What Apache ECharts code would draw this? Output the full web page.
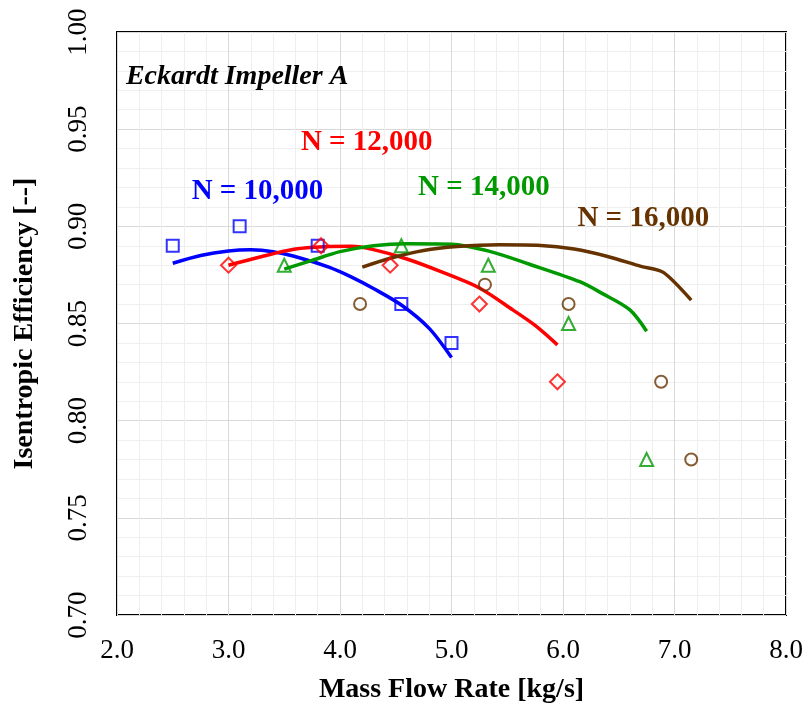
<!DOCTYPE html>
<html>
<head>
<meta charset="utf-8">
<script src="https://cdn.jsdelivr.net/npm/echarts@6/dist/echarts.min.js"></script>
<style>
  html, body { margin: 0; padding: 0; background: #fff; }
  #chart { width: 805px; height: 706px; }
</style>
</head>
<body>
<div id="chart"></div>
<script>
// ─── data ───
const SPEEDS = ["N = 10,000", "N = 12,000", "N = 14,000", "N = 16,000"];
const COLORS = ["#0000ff", "#ff0000", "#009900", "#663300"];
const SYMBOLS = ["rect", "diamond", "triangle", "circle"];

// measured points [mass flow, efficiency]
const meas10 = [[2.5, 0.89], [3.1, 0.90], [3.8, 0.89], [4.55, 0.86], [5.0, 0.84]];
const meas12 = [[3.0, 0.88], [3.83, 0.89], [4.45, 0.88], [5.25, 0.86], [5.95, 0.82]];
const meas14 = [[3.5, 0.88], [4.55, 0.89], [5.33, 0.88], [6.05, 0.85], [6.75, 0.78]];
const meas16 = [[4.18, 0.86], [5.3, 0.87], [6.05, 0.86], [6.88, 0.82], [7.15, 0.78]];

// predicted curves
const curve10 = [[2.5, 0.881], [2.75, 0.885], [3.0, 0.8873], [3.2, 0.8879], [3.4, 0.8869], [3.65, 0.8836],
  [3.9, 0.879], [4.1, 0.874], [4.3, 0.868], [4.55, 0.8595], [4.8, 0.8475], [5.0, 0.8325]];
const curve12 = [[3.0, 0.880], [3.3, 0.8845], [3.6, 0.8883], [3.85, 0.8895], [4.1, 0.8897], [4.3, 0.888],
  [4.6, 0.8832], [4.9, 0.8768], [5.25, 0.8683], [5.55, 0.857], [5.75, 0.849], [5.95, 0.839]];
const curve14 = [[3.5, 0.878], [3.75, 0.8825], [4.0, 0.887], [4.3, 0.890], [4.6, 0.891], [5.0, 0.8908],
  [5.35, 0.887], [5.7, 0.8805], [6.15, 0.8715], [6.35, 0.8655], [6.6, 0.857], [6.75, 0.846]];
const curve16 = [[4.2, 0.879], [4.45, 0.8836], [4.75, 0.8876], [5.05, 0.8896], [5.43, 0.8905], [5.8, 0.8902],
  [6.1, 0.8883], [6.4, 0.8845], [6.7, 0.8794], [6.9, 0.8763], [7.15, 0.862]];

// label anchors (data coords)
const labelPos = [[3.26, 0.9177], [4.24, 0.943], [5.29, 0.920], [6.72, 0.904]];

const MEAS = [meas10, meas12, meas14, meas16];
const CURVES = [curve10, curve12, curve14, curve16];
const SYMBOL_SIZE = [12, 15, 13, 12];

const FONT = "'Liberation Serif', 'Times New Roman', serif";

const chart = echarts.init(document.getElementById("chart"));

const series = [];
CURVES.forEach((c, i) => {
  series.push({
    name: SPEEDS[i] + " curve",
    type: "line",
    data: c,
    smooth: 0.3,
    showSymbol: false,
    lineStyle: { color: COLORS[i], width: 3.5 },
    z: 2,
  });
});
MEAS.forEach((m, i) => {
  series.push({
    name: SPEEDS[i],
    type: "scatter",
    data: m,
    symbol: SYMBOLS[i],
    symbolSize: SYMBOL_SIZE[i],
    itemStyle: { color: "rgba(0,0,0,0)", borderColor: COLORS[i], borderWidth: 2 },
    z: 3,
  });
});

chart.setOption({
  animation: false,
  grid: {
    left: 117, right: 19, top: 32, bottom: 91,
    outerBoundsMode: "none",
    show: true, borderColor: "#000", borderWidth: 2, backgroundColor: "transparent",
  },
  xAxis: {
    type: "value", min: 2, max: 8, interval: 1,
    name: "Mass Flow Rate [kg/s]", nameLocation: "middle", nameGap: 61,
    nameTextStyle: { fontFamily: FONT, fontSize: 28, fontWeight: "bold", color: "#000" },
    axisLine: { show: false }, axisTick: { show: false },
    axisLabel: { fontFamily: FONT, fontSize: 27, color: "#000", margin: 22,
      formatter: (v) => v.toFixed(1) },
    splitLine: { show: true, lineStyle: { color: "#d9d9d9", width: 1 } },
    minorTick: { show: false, splitNumber: 5 },
    minorSplitLine: { show: true, lineStyle: { color: "#efefef", width: 1 } },
  },
  yAxis: {
    type: "value", min: 0.70, max: 1.00, interval: 0.05,
    name: "Isentropic Efficiency [--]", nameLocation: "middle", nameGap: 78,
    nameTextStyle: { fontFamily: FONT, fontSize: 28, fontWeight: "bold", color: "#000" },
    axisLine: { show: false }, axisTick: { show: false },
    axisLabel: { fontFamily: FONT, fontSize: 27, color: "#000", rotate: 90, margin: 25,
      formatter: (v) => v.toFixed(2) },
    splitLine: { show: true, lineStyle: { color: "#d9d9d9", width: 1 } },
    minorTick: { show: false, splitNumber: 5 },
    minorSplitLine: { show: true, lineStyle: { color: "#efefef", width: 1 } },
  },
  series: series,
});

// text labels placed through the axis scales
const graphics = SPEEDS.map((t, i) => {
  const p = chart.convertToPixel({ gridIndex: 0 }, labelPos[i]);
  return {
    type: "text", x: p[0], y: p[1], z: 10,
    style: { text: t, fill: COLORS[i], font: "bold 29px " + FONT, align: "center", verticalAlign: "middle" },
  };
});
const tl = chart.convertToPixel({ gridIndex: 0 }, [2.08, 0.977]);
graphics.push({
  type: "text", x: tl[0], y: tl[1], z: 10,
  style: { text: "Eckardt Impeller A", fill: "#000", font: "italic bold 28px " + FONT,
    align: "left", verticalAlign: "middle" },
});
chart.setOption({ graphic: graphics });
</script>
</body>
</html>
